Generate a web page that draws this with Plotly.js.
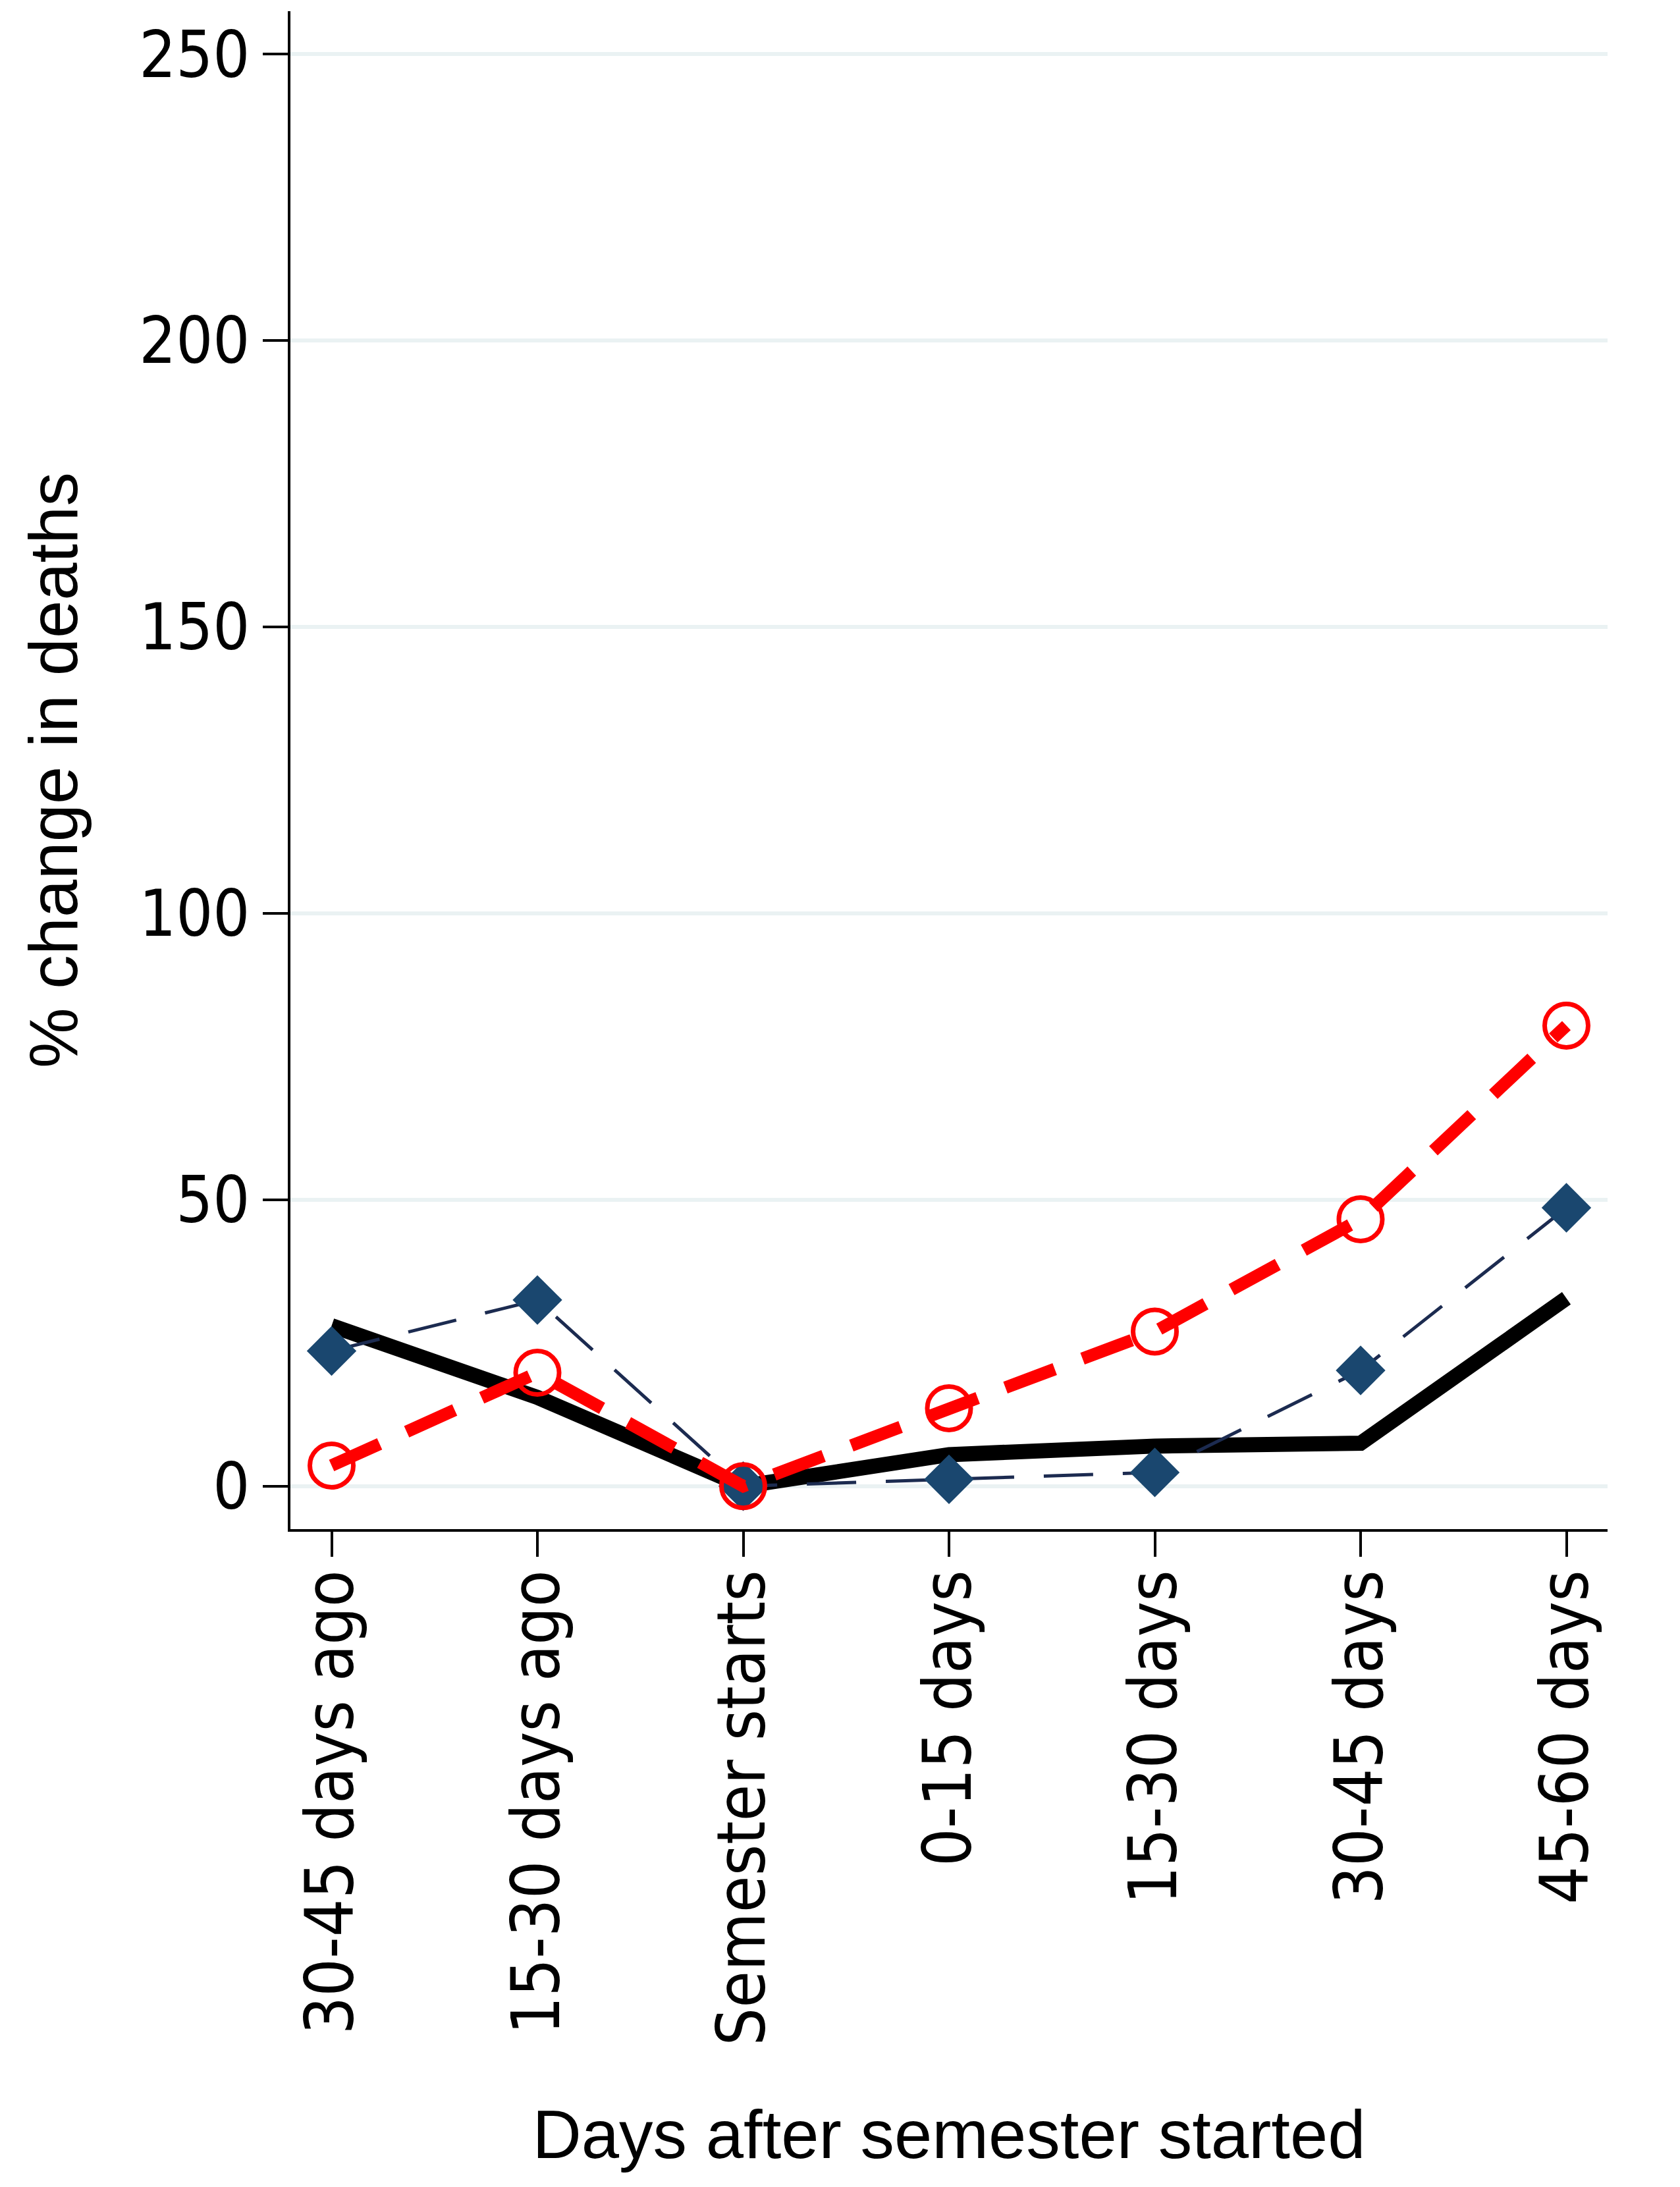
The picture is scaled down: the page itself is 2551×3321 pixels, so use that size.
<!DOCTYPE html>
<html>
<head>
<meta charset="utf-8">
<script src="https://cdn.plot.ly/plotly-3.0.1.min.js"></script>
<style>
  html, body { margin: 0; padding: 0; background: #ffffff; }
  #chart { width: 2551px; height: 3321px; }
</style>
</head>
<body>
<div id="chart"></div>
<script>
// Categories (x-axis tick labels)
const periods = ["30-45 days ago", "15-30 days ago", "Semester starts", "0-15 days", "15-30 days", "30-45 days", "45-60 days"];

// Series values (% change in deaths)
const seriesSolid = [28.0, 15.5, 0, 5.5, 7.0, 7.5, 32.8];
const seriesDiamond = [23.6, 32.5, 0, 1.2, 2.4, 20.2, 48.6];
const seriesCircle = [3.6, 19.8, 0, 13.6, 27.0, 46.6, 80.4];

// Y ticks
const yTicks = [0, 50, 100, 150, 200, 250];

const yTickFont = { family: "DejaVu Sans Condensed, DejaVu Sans, sans-serif", size: 98, color: "#000000" };
const xTickFont = { family: "DejaVu Sans Condensed, DejaVu Sans, sans-serif", size: 101, color: "#000000" };
const titleFont = { family: "Liberation Sans, Arial, sans-serif", size: 103, color: "#000000" };

const traces = [
  {
    x: periods, y: seriesSolid, type: "scatter", mode: "lines",
    line: { color: "#000000", width: 23 },
    hoverinfo: "skip"
  },
  {
    x: periods, y: seriesDiamond, type: "scatter", mode: "lines+markers",
    line: { color: "#1c2b50", width: 5, dash: "75px,45px" },
    marker: { symbol: "diamond", size: 58, color: "#1a476f", line: { width: 0 } },
    hoverinfo: "skip"
  },
  {
    x: periods, y: seriesCircle, type: "scatter", mode: "lines+markers",
    line: { color: "#ff0000", width: 19, dash: "80px,45px" },
    marker: { symbol: "circle-open", size: 66, color: "#ff0000", line: { width: 7, color: "#ff0000" } },
    hoverinfo: "skip"
  }
];

const layout = {
  width: 2551, height: 3321,
  margin: { l: 441, r: 110, t: 17, b: 999, pad: 0 },
  paper_bgcolor: "#ffffff",
  plot_bgcolor: "#ffffff",
  showlegend: false,
  xaxis: {
    type: "category",
    range: [-0.2, 6.2],
    showgrid: false,
    zeroline: false,
    showline: true, linecolor: "#000000", linewidth: 4,
    ticks: "outside", ticklen: 38, tickwidth: 4, tickcolor: "#000000",
    tickangle: -90,
    ticklabelstandoff: -20,
    tickfont: xTickFont,
    automargin: false,
    title: { text: "Days after semester started", font: titleFont, standoff: 100 }
  },
  yaxis: {
    range: [-7.5, 257.5],
    tickvals: yTicks,
    ticktext: yTicks.map(String),
    showgrid: true, gridcolor: "#eaf2f3", gridwidth: 6,
    zeroline: false,
    showline: true, linecolor: "#000000", linewidth: 4,
    ticks: "outside", ticklen: 38, tickwidth: 4, tickcolor: "#000000",
    tickfont: yTickFont,
    automargin: false,
    title: { text: "% change in deaths", font: titleFont, standoff: 60 }
  }
};

Plotly.newPlot("chart", traces, layout, { staticPlot: true, displayModeBar: false });
</script>
</body>
</html>
